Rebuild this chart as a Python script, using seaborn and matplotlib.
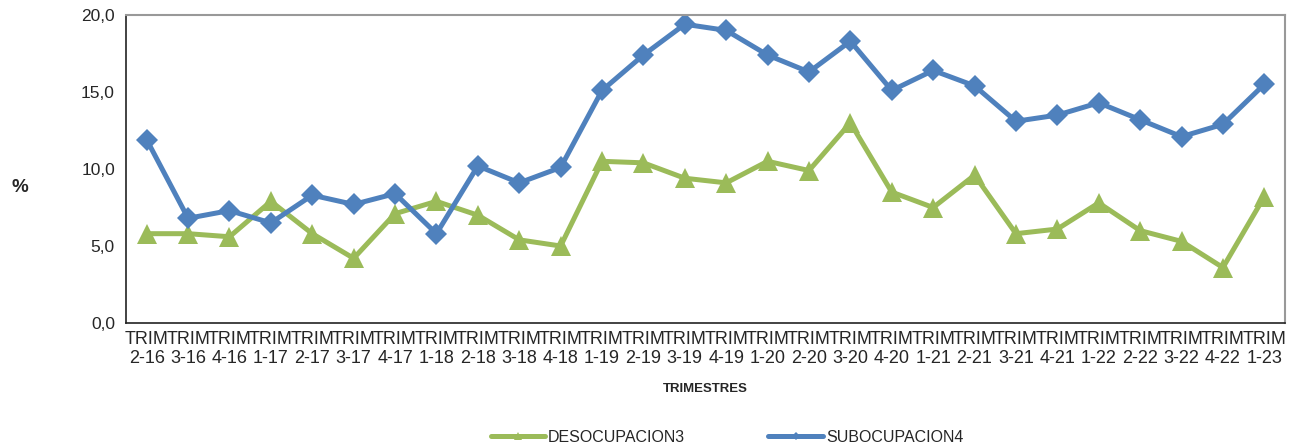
import numpy as np
import pandas as pd
import matplotlib
matplotlib.use("Agg")
import matplotlib.pyplot as plt
from matplotlib.lines import Line2D
import seaborn as sns

# Data
trimestres = ['2-16', '3-16', '4-16', '1-17', '2-17', '3-17', '4-17', '1-18', '2-18', '3-18',
              '4-18', '1-19', '2-19', '3-19', '4-19', '1-20', '2-20', '3-20', '4-20', '1-21',
              '2-21', '3-21', '4-21', '1-22', '2-22', '3-22', '4-22', '1-23']
desocupacion = [5.8, 5.8, 5.6, 7.9, 5.8, 4.2, 7.1, 7.9, 7.0, 5.4,
                5.0, 10.5, 10.4, 9.4, 9.1, 10.5, 9.9, 13.0, 8.5, 7.5,
                9.6, 5.8, 6.1, 7.8, 6.0, 5.3, 3.6, 8.2]
subocupacion = [11.9, 6.8, 7.3, 6.5, 8.3, 7.7, 8.4, 5.8, 10.2, 9.1,
                10.1, 15.1, 17.4, 19.4, 19.0, 17.4, 16.3, 18.3, 15.1, 16.4,
                15.4, 13.1, 13.5, 14.3, 13.2, 12.1, 12.9, 15.5]
tick_labels = ['TRIM\n' + t for t in trimestres]

green = '#9BBB59'
blue = '#4F81BD'

df = pd.DataFrame({'idx': np.arange(len(trimestres)),
                   'DESOCUPACION3': desocupacion,
                   'SUBOCUPACION4': subocupacion})

sns.set_style('white')
plt.rcParams['font.family'] = ['Liberation Sans', 'DejaVu Sans']

fig, ax = plt.subplots(figsize=(12.93, 4.46), dpi=100)
fig.subplots_adjust(left=126/1293, right=1285/1293, top=1-15/446, bottom=1-323/446)

sns.lineplot(data=df, x='idx', y='DESOCUPACION3', ax=ax, color=green, linewidth=3.6,
             marker='^', markersize=14, markeredgewidth=0, legend=False)
sns.lineplot(data=df, x='idx', y='SUBOCUPACION4', ax=ax, color=blue, linewidth=3.6,
             marker='D', markersize=11, markeredgewidth=0, legend=False)

ax.set_xlim(-0.5, len(trimestres) - 0.5)
ax.set_ylim(0, 20)
ax.set_yticks([0, 5, 10, 15, 20])
ax.set_yticklabels(['0,0', '5,0', '10,0', '15,0', '20,0'], fontsize=12.5)
ax.set_xticks(np.arange(len(trimestres)))
ax.set_xticklabels(tick_labels, fontsize=13, linespacing=1.1)
ax.set_xticks(np.arange(len(trimestres) + 1) - 0.5, minor=True)
ax.tick_params(axis='x', which='major', length=0, pad=6)
ax.tick_params(axis='x', which='minor', length=5, width=1, color='#333333', direction='out')
ax.tick_params(axis='y', which='major', length=5, width=1, color='#333333', direction='out', pad=3)

for s in ['left', 'bottom']:
    ax.spines[s].set_color('#222222')
    ax.spines[s].set_linewidth(1.2)
for s in ['top', 'right']:
    ax.spines[s].set_color('#999999')
    ax.spines[s].set_linewidth(1.5)

ax.set_xlabel('TRIMESTRES', fontsize=9.5, fontweight='bold', labelpad=12)
ax.set_ylabel('')
fig.text(20/1293, 1-188/446, '%', fontsize=13.5, fontweight='bold', ha='center', va='center')

handles = [Line2D([], [], color=green, linewidth=3.6, marker='^', markersize=6, markeredgewidth=0),
           Line2D([], [], color=blue, linewidth=3.6, marker='D', markersize=4, markeredgewidth=0)]
fig.legend(handles, ['DESOCUPACION3', 'SUBOCUPACION4'], loc='center',
           bbox_to_anchor=(727/1293, 1-437/446), ncol=2, frameon=False, fontsize=11.5,
           handlelength=3.4, handletextpad=0.2, columnspacing=5.2, borderpad=0)

fig.savefig('out.png', dpi=100)
